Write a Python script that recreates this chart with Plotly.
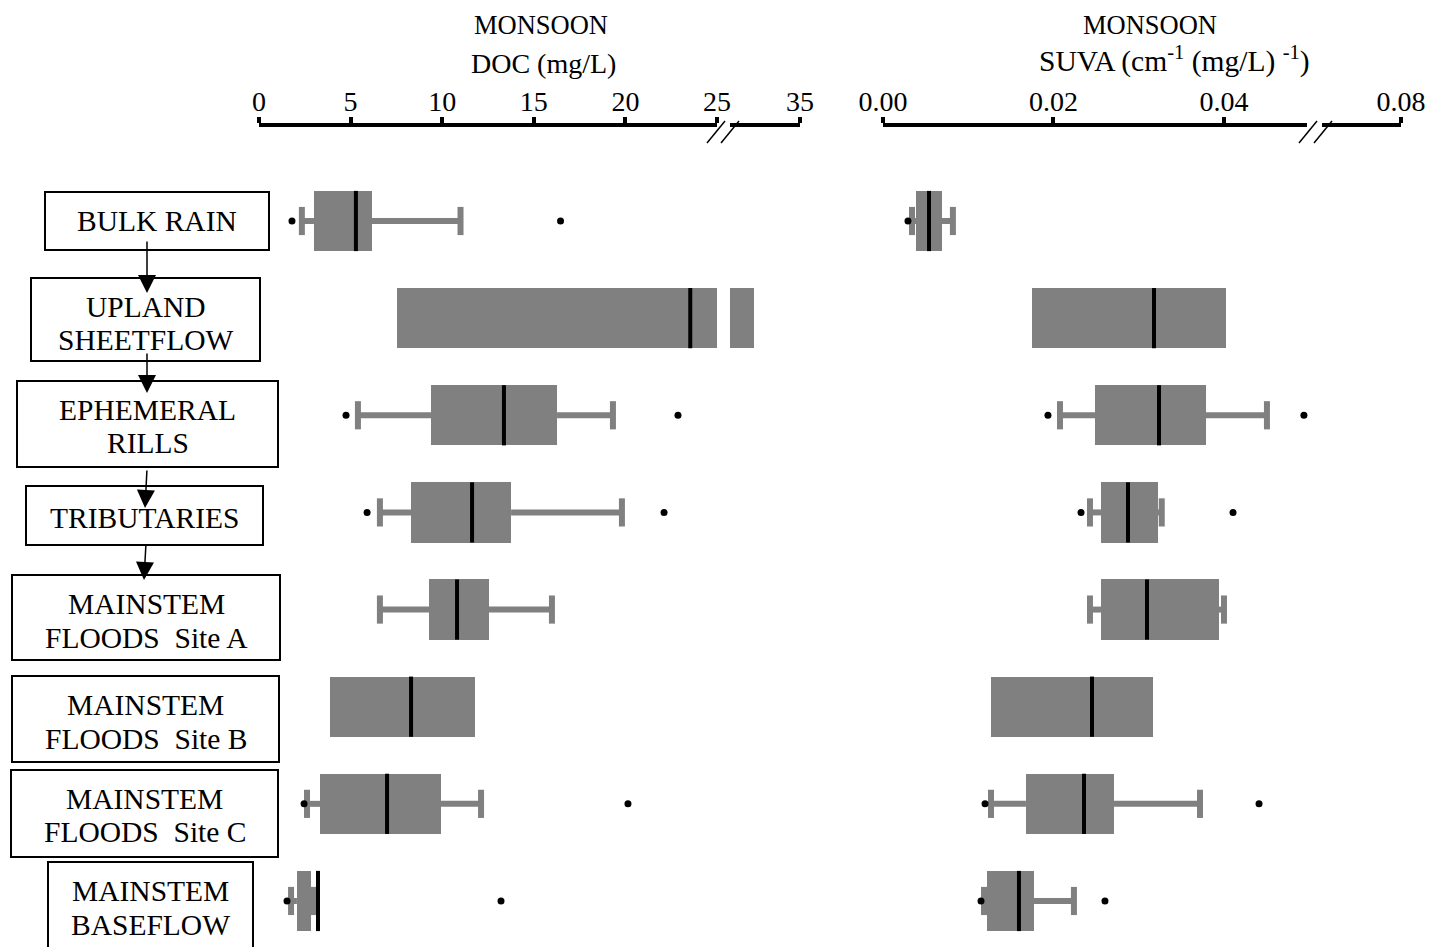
import plotly.graph_objects as go

W, H = 1436, 947
FONT = "Liberation Serif"
GREY = "#808080"

# Flow-path stages, top to bottom
stages = ["BULK RAIN", "UPLAND SHEETFLOW", "EPHEMERAL RILLS", "TRIBUTARIES",
          "MAINSTEM FLOODS Site A", "MAINSTEM FLOODS Site B",
          "MAINSTEM FLOODS Site C", "MAINSTEM BASEFLOW"]
stage_lines = [["BULK RAIN"], ["UPLAND", "SHEETFLOW"], ["EPHEMERAL", "RILLS"],
               ["TRIBUTARIES"], ["MAINSTEM", "FLOODS  Site A"],
               ["MAINSTEM", "FLOODS  Site B"], ["MAINSTEM", "FLOODS  Site C"],
               ["MAINSTEM", "BASEFLOW"]]

# DOC (mg/L) box statistics per stage (None = no whisker drawn)
doc_q1 = [3.00, 7.52, 9.39, 8.30, 9.28, 3.88, 3.33, 2.07]
doc_med = [5.29, 23.54, 13.37, 11.63, 10.81, 8.30, 6.99, 3.22]
doc_q3 = [6.16, 28.40, 16.27, 13.76, 12.55, 11.79, 9.93, 2.84]
doc_lo = [2.34, None, 5.40, 6.60, 6.60, None, 2.62, 1.75]
doc_hi = [11.00, None, 19.32, 19.81, 15.99, None, 12.12, 3.00]
doc_out = [[1.80, 16.46], [], [4.75, 22.87], [5.90, 22.11], [], [],
           [2.46, 20.14], [1.53, 13.21]]

# SUVA (cm-1 (mg/L)-1) box statistics per stage
suva_q1 = [0.00387, 0.01748, 0.02487, 0.02557, 0.02557, 0.01267, 0.01677, 0.01220]
suva_med = [0.00540, 0.03179, 0.03238, 0.02874, 0.03097, 0.02452, 0.02358, 0.01595]
suva_q3 = [0.00692, 0.04023, 0.03789, 0.03226, 0.03941, 0.03167, 0.02710, 0.01771]
suva_lo = [0.00340, None, 0.02076, 0.02428, 0.02428, None, 0.01267, 0.01185]
suva_hi = [0.00820, None, 0.04504, 0.03270, 0.04000, None, 0.03719, 0.02240]
suva_out = [[0.00293], [], [0.01935, 0.04938], [0.02323, 0.04106], [], [],
            [0.01197, 0.04411], [0.01150, 0.02604]]

# Axis ranges (each panel has a broken axis: two segments)
doc_range_a, doc_range_b = [0, 25], [25, 35]
suva_range_a, suva_range_b = [0, 0.04974], [0.05, 0.08]

# Axis tick labels
doc_ticks_a = [0, 5, 10, 15, 20, 25]
doc_ticks_b = [35]
suva_ticks_a = [0.0, 0.02, 0.04]
suva_ticks_a_text = ["0.00", "0.02", "0.04"]
suva_ticks_b = [0.08]
suva_ticks_b_text = ["0.08"]


def px(x):
    return x / W


def py(y):
    return 1 - y / H


rows = list(range(len(stages)))
BOX_H = 0.62
CAP_H = 0.145
MED_H = 0.31

fig = go.Figure()


def add_panel(segments, q1, med, q3, lo, hi, outs):
    for xa, _ in segments:
        fig.add_trace(go.Bar(
            orientation="h", y=rows, base=q1,
            x=[b - a for a, b in zip(q1, q3)], width=BOX_H,
            marker=dict(color=GREY, line=dict(width=0)),
            xaxis=xa, yaxis="y", hoverinfo="skip"))
    for xa, rng in segments:
        wx, wy, cx, cy = [], [], [], []
        for i in rows:
            if lo[i] is not None:
                wx += [lo[i], q1[i], None]
                wy += [i, i, None]
                cx += [lo[i], lo[i], None]
                cy += [i - CAP_H, i + CAP_H, None]
            if hi[i] is not None:
                wx += [q3[i], hi[i], None]
                wy += [i, i, None]
                cx += [hi[i], hi[i], None]
                cy += [i - CAP_H, i + CAP_H, None]
        fig.add_trace(go.Scatter(x=wx, y=wy, mode="lines",
                                 line=dict(color=GREY, width=6),
                                 xaxis=xa, yaxis="y", hoverinfo="skip"))
        fig.add_trace(go.Scatter(x=cx, y=cy, mode="lines",
                                 line=dict(color=GREY, width=6),
                                 xaxis=xa, yaxis="y", hoverinfo="skip"))
        mx, my = [], []
        for i in rows:
            mx += [med[i], med[i], None]
            my += [i - MED_H, i + MED_H, None]
        fig.add_trace(go.Scatter(x=mx, y=my, mode="lines",
                                 line=dict(color="black", width=4),
                                 xaxis=xa, yaxis="y", hoverinfo="skip"))
        ox, oy = [], []
        for i in rows:
            for v in outs[i]:
                if rng[0] <= v <= rng[1]:
                    ox.append(v)
                    oy.append(i)
        fig.add_trace(go.Scatter(x=ox, y=oy, mode="markers", cliponaxis=False,
                                 marker=dict(color="black", size=7),
                                 xaxis=xa, yaxis="y", hoverinfo="skip"))


add_panel([("x", doc_range_a), ("x2", doc_range_b)],
          doc_q1, doc_med, doc_q3, doc_lo, doc_hi, doc_out)
add_panel([("x3", suva_range_a), ("x4", suva_range_b)],
          suva_q1, suva_med, suva_q3, suva_lo, suva_hi, suva_out)

axis_top = 127
ax_common = dict(side="top", anchor="y", showline=True, linewidth=4,
                 linecolor="black", ticks="outside", ticklen=6, tickwidth=4,
                 tickcolor="black", showgrid=False, zeroline=False,
                 automargin=False, ticklabelstandoff=-5,
                 tickfont=dict(family=FONT, size=28, color="black"),
                 fixedrange=True)

fig.update_layout(
    template="none",
    width=W, height=H,
    margin=dict(l=0, r=0, t=0, b=0, pad=0, autoexpand=False),
    paper_bgcolor="white", plot_bgcolor="white",
    showlegend=False, bargap=0,
    xaxis=dict(domain=[px(259), px(717)], range=doc_range_a,
               tickvals=doc_ticks_a, **ax_common),
    xaxis2=dict(domain=[px(730), px(800)], range=doc_range_b,
                tickvals=doc_ticks_b, **ax_common),
    xaxis3=dict(domain=[px(883), px(1307)], range=suva_range_a,
                tickvals=suva_ticks_a, ticktext=suva_ticks_a_text, **ax_common),
    xaxis4=dict(domain=[px(1322), px(1401)], range=suva_range_b,
                tickvals=suva_ticks_b, ticktext=suva_ticks_b_text, **ax_common),
    yaxis=dict(domain=[0, py(axis_top)],
               range=[(H - 221) / 97.14, (axis_top - 221) / 97.14],
               showline=False, showticklabels=False, showgrid=False,
               zeroline=False, ticks="", fixedrange=True, automargin=False),
)

# Axis break marks
shapes = []
for (xa, xb) in [(707, 725), (721, 739), (1299, 1317), (1314, 1332)]:
    shapes.append(dict(type="line", xref="paper", yref="paper",
                       x0=px(xa), y0=py(143), x1=px(xb), y1=py(121),
                       line=dict(color="black", width=1.5)))

# Flow-path boxes
boxes = [(45, 192, 269, 250), (31, 278, 260, 361), (17, 381, 278, 467),
         (26, 486, 263, 545), (12, 575, 280, 660), (12, 676, 279, 762),
         (11, 770, 278, 857), (48, 862, 253, 952)]
for (x0, y0b, x1, y1) in boxes:
    shapes.append(dict(type="rect", xref="paper", yref="paper",
                       x0=px(x0), y0=py(y1), x1=px(x1), y1=py(y0b),
                       line=dict(color="black", width=2), fillcolor="rgba(0,0,0,0)"))
fig.update_layout(shapes=shapes)

annotations = []
label_y = [[221], [307, 340], [410, 443], [518], [604, 638], [705, 739],
           [799, 832], [891, 925]]
for (x0, _, x1, _), lines, ys in zip(boxes, stage_lines, label_y):
    for t, yy in zip(lines, ys):
        annotations.append(dict(text=t, x=px((x0 + x1) / 2), y=py(yy),
                                xref="paper", yref="paper", showarrow=False,
                                xanchor="center", yanchor="middle",
                                font=dict(family=FONT, size=29.5, color="black")))

# Flow arrows between stages
for (tx, ty, sx, sy) in [(147, 293, 147, 240), (147, 393, 147, 352),
                         (145, 508, 147, 469), (144, 580, 146, 543)]:
    annotations.append(dict(text="", x=px(tx), y=py(ty), xref="paper",
                            yref="paper", ax=sx - tx, ay=sy - ty,
                            showarrow=True, arrowhead=2, arrowsize=2.4,
                            arrowwidth=1.5, arrowcolor="black"))

# Panel titles
for (t, x, y, s) in [("MONSOON", 541, 25, 26.5), ("DOC (mg/L)", 543, 63, 28),
                     ("MONSOON", 1150, 25, 26.5),
                     ("SUVA (cm<sup>-1</sup> (mg/L) <sup>-1</sup>)", 1174, 60, 29.5)]:
    annotations.append(dict(text=t, x=px(x), y=py(y), xref="paper",
                            yref="paper", showarrow=False, xanchor="center",
                            yanchor="middle",
                            font=dict(family=FONT, size=s, color="black")))
fig.update_layout(annotations=annotations)

fig.write_html("out.html")
